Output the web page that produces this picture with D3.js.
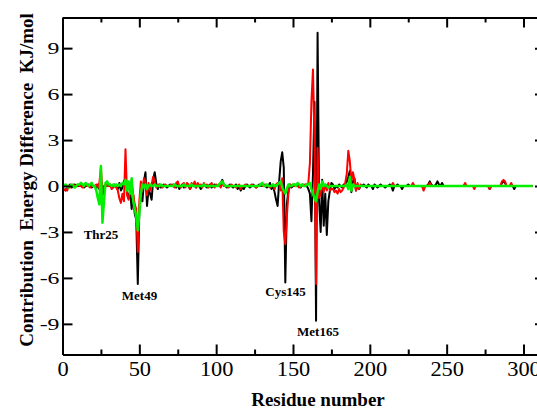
<!DOCTYPE html>
<html>
<head>
<meta charset="utf-8">
<script src="https://cdn.jsdelivr.net/npm/d3@7"></script>
<style>
  body { margin: 0; background: #fff; }
  svg { display: block; }
  text { font-family: "Liberation Serif", "Times New Roman", serif; fill: #000; }
</style>
</head>
<body>
<div id="main"></div>
<script>
// residue numbers (x) and per-residue energy differences (kJ/mol) for the three systems
var residues = d3.range(1, 307);

var blackVals = [
  -0.2,-0.3,-0.2,0,0.1,-0.1,0,0.1,0,0,
  0,0.1,0,-0.1,0,0,0.1,0,-0.1,0,
  0,-0.1,0.1,-0.2,0.3,-0.6,-0.2,0.1,0,0.1,
  0,-0.1,0,0.1,0,-0.2,0.2,-0.3,-0.1,0.3,
  0.5,-0.4,-0.8,-0.3,-1.5,-0.6,-1.8,-2.2,-6.4,-1.6,
  -0.5,-1.0,0.3,0.9,-1.3,-0.2,-0.5,-0.9,0.4,0.9,
  0.2,-0.2,0.1,-0.1,0,0.1,0,-0.1,0,0.1,
  0,0.1,0,-0.1,0.2,-0.2,0,0.1,-0.1,0,
  0.1,0,-0.2,0,0.1,0,-0.1,0.1,0,-0.2,
  0,0.1,0,-0.1,0,0.1,-0.1,0,0.1,0,
  0,0.1,0.2,0.4,0.1,0,-0.1,0,0.1,0,
  -0.1,0,0.1,-0.2,0,-0.3,-0.1,-0.2,0,0.1,
  0,-0.1,0,0.1,0,-0.1,0,0.1,0,0,
  0.1,0,-0.1,0,0.2,-0.2,0,-0.4,-0.9,-1.3,
  0.3,1.6,2.2,1.2,-6.3,-1.2,-0.3,0.1,-0.1,0,
  0.1,0,0.1,0,-0.1,0.1,0,0.1,0,-0.2,
  -0.5,-2.3,0.8,5.5,-8.8,10.0,-1.0,-3.0,0.4,-2.6,
  -0.5,-3.2,-1.0,-0.3,0.2,0.1,-0.2,0,-0.1,0.1,
  0,-0.1,0.1,0,0.3,0.6,1.0,-0.4,0.3,0.5,
  -0.3,0.1,-0.2,0,0,0.1,0,-0.1,0.1,0,
  0,-0.2,0.1,0,-0.1,0,0.1,0,0,-0.1,
  0,0,0.1,0,-0.3,0,0,0.1,0,0,
  -0.2,0,0,0,0.1,0,0,0.1,0,0,
  0,0,0,0,-0.2,0,0,0.1,0.3,0.1,
  0,0,0.1,0.3,0.1,0,0.2,0,0,0,
  0,0,0,0,0,0,0,0,0,0,
  0,0.1,0,0,0,0,0,0,0,0,
  0,0,0,0,0,0,0,-0.2,0,0,
  0,0,0,0,0,0.2,0.3,0.2,0,0,
  0,0,0,-0.2,0,0,0,0,0,0,
  0,0,0,0,0,0
];

var redVals = [
  -0.3,-0.2,-0.3,0,-0.1,0,0.1,0,0,0.1,
  0,0,-0.1,0,0.1,0,0,-0.1,0,0,
  0,0.1,-0.1,0.2,1.2,-0.4,0,0.1,0,0,
  0.1,-0.2,-0.1,0,-0.1,-0.3,-0.8,-1.1,-0.5,-1.0,
  2.4,-0.6,-0.9,-0.3,0.2,-0.5,-1.2,-1.5,-4.3,-1.0,
  0.3,-0.3,0.5,0.3,-0.6,0.2,-0.3,0.1,0.6,0.3,
  -0.1,0,0.1,0,-0.1,0,0.1,0,0,0,
  0.1,0,-0.1,0.2,0.3,0,-0.1,0.1,0.2,-0.1,
  0.2,0.1,-0.2,0.2,0,0.3,-0.1,0.2,0,0.1,
  -0.1,0.2,0,0.1,-0.1,0,0.2,0,-0.1,0.1,
  0,0.1,-0.1,0.2,0,0,0,-0.1,0,0.1,
  0,0,-0.1,0,0.1,-0.2,0,0,0.1,0,
  0,0,0.1,0,0,-0.1,0,0,0.1,0,
  0,0.1,0,0,-0.1,0,0.1,-0.2,0.1,0.2,
  0.2,-0.3,0.5,-3.0,-3.8,-2.0,-0.5,0.1,0,0.1,
  0,0.1,0,-0.1,0,0,0.1,0,0.1,0.2,
  1.5,5.5,7.6,3.0,-6.4,2.5,-0.8,-0.5,0.2,-0.4,
  0.1,-0.3,0.2,-0.3,-0.2,-0.2,-0.4,-0.3,-0.5,-0.2,
  -0.4,-0.3,-0.1,0.2,0.8,2.3,1.6,0.3,0.9,0.4,
  -0.3,0.2,-0.2,0.1,0,0,0,0,0,0,
  0,0,0,0,0,0,0,0,0,0,
  0,0,0,0,0.2,0,0,0,0,0,
  0,0,0,0,0,0,0,0.2,0,0,
  0,0,0,0,-0.3,0,0,0,0.2,0,
  0,0,0,0,0,0,0,0,0,0,
  0,0,0,0,0,0,0,0,0,0,
  0,0.2,0,0,0,0,0,-0.2,0,0,
  0,0,0,0,0,0,0,-0.2,0,0,
  0,0,0,0,0,0.3,0.4,0.3,0,0,
  0,0.2,0,0,0,0,0,0,0,0,
  0,0,0,0,0,0
];

var greenVals = [
  0,0.1,0,-0.1,0,0.1,0,-0.1,0,0.1,
  0.1,0.2,0.1,0,0.2,0.1,0,0.1,0.2,0,
  0,-0.3,-0.8,-1.2,1.3,-2.4,-1.0,0.2,0.3,0.1,
  0.1,0,0.1,0,0.1,0,0.1,0,0.2,0.1,
  0.4,-0.3,0.3,-0.5,0.5,-1.0,-1.5,-2.0,-2.9,-1.8,
  -0.5,0.1,-0.1,0.1,-0.2,0,0.1,0,0,0.1,
  0,0,0,0.1,0,0,0,0,0,0,
  0,0,0.1,0,0,0,0,0,0.1,0,
  0,0,0,0.1,0,0,0,0,0,0,
  0,0.1,0,0,0,0,0,0,0,0,
  0,0.1,0.2,0.3,0.1,0,0,0,0,0,
  0,0,0,0,0,0,0,0,0,0,
  0,0,0,0,0,0,0,0,0.1,0.2,
  0,0,0.1,0,0,0,0.1,0,0,0.1,
  0.2,0.3,-0.1,-0.3,-0.5,-0.2,0.1,0,0,0.1,
  0.1,0,0.2,0.1,0,0.1,0,0,0.1,0.1,
  0.2,-0.2,-0.5,-0.8,-1.0,-0.4,0.1,-0.2,0.3,0,
  0.1,0,-0.1,0,0,0,0,0,0,0,
  0,0,0,0,0.1,-0.2,0.6,-0.3,0.1,0,
  0,0,0,0,0,0,0,0,0,0,
  0,0,0,0,0,0,0,0,0,0,
  0,0,0,0,0,0,0,0,0,0,
  0,0,0,0,0,0,0,0,0,0,
  0,0,0,0,0,0,0,0,0,0,
  0,0,0,0,0,0,0,0,0,0,
  0,0,0,0,0,0,0,0,0,0,
  0,0,0,0,0,0,0,0,0,0,
  0,0,0,0,0,0,0,0,0,0,
  0,0,0,0,0,0,0,0,0,0,
  0,0,0,0,0,0,0,0,0,0,
  0,0,0,0,0,0
];

var xMajor = [0, 50, 100, 150, 200, 250, 300];
var xMinor = [25, 75, 125, 175, 225, 275];
var yMajor = [-9, -6, -3, 0, 3, 6, 9];

// residues picked out on the plot
var labelNames = ["Thr25", "Met49", "Cys145", "Met165"];

var width = 537, height = 408;
var pad = { left: 62.5, right: 545, top: 17.5, bottom: 354.5 };

var svg = d3.select("#main").append("svg")
    .attr("width", width)
    .attr("height", height);

svg.append("rect").attr("width", width).attr("height", height).attr("fill", "#fff");

var x = d3.scaleLinear().domain([0, 314]).range([pad.left, pad.right]);
var y = d3.scaleLinear().domain([-11, 11]).range([pad.bottom, pad.top]);

// lines: black under red under green
var series = [
    { vals: blackVals, color: "#000000", w: 2 },
    { vals: redVals, color: "#ff0000", w: 2 },
    { vals: greenVals, color: "#00f000", w: 2.5 }
];

var line = d3.line()
    .x(function (d) { return x(d[0]); })
    .y(function (d) { return y(d[1]); });

series.forEach(function (s) {
    var pts = residues.map(function (r, i) { return [r, s.vals[i]]; });
    svg.append("path")
        .datum(pts)
        .attr("fill", "none")
        .attr("stroke", s.color)
        .attr("stroke-width", s.w)
        .attr("stroke-linejoin", "round")
        .attr("d", line);
});

// axes, ticks pointing inward
function styleAxis(g) {
    g.select(".domain").attr("stroke", "#000").attr("stroke-width", 2);
    g.selectAll(".tick line").attr("stroke", "#000").attr("stroke-width", 2);
}

var xb = svg.append("g").attr("transform", "translate(0," + pad.bottom + ")")
    .call(d3.axisBottom(x).tickValues(xMajor).tickSize(-10).tickSizeOuter(0)
        .tickFormat(function (d) { return String(d); }));
styleAxis(xb);
// tick labels are a little wider than plain Times in the original
xb.selectAll(".tick text")
    .attr("font-size", 20).attr("font-family", "Liberation Serif").attr("fill", "#000")
    .attr("y", null).attr("dy", null)
    .attr("transform", "translate(0,21.5) scale(1.12,1)");

var xbm = svg.append("g").attr("transform", "translate(0," + pad.bottom + ")")
    .call(d3.axisBottom(x).tickValues(xMinor).tickSize(-5).tickSizeOuter(0).tickFormat(""));
styleAxis(xbm);

var xt = svg.append("g").attr("transform", "translate(0," + pad.top + ")")
    .call(d3.axisTop(x).tickValues(xMajor).tickSize(-10).tickSizeOuter(0).tickFormat(""));
styleAxis(xt);
var xtm = svg.append("g").attr("transform", "translate(0," + pad.top + ")")
    .call(d3.axisTop(x).tickValues(xMinor).tickSize(-5).tickSizeOuter(0).tickFormat(""));
styleAxis(xtm);

var yl = svg.append("g").attr("transform", "translate(" + pad.left + ",0)")
    .call(d3.axisLeft(y).tickValues(yMajor).tickSize(-10).tickSizeOuter(0)
        .tickFormat(function (d) { return String(d); }));
styleAxis(yl);
yl.selectAll(".tick text")
    .attr("font-size", 17).attr("font-family", "Liberation Serif").attr("fill", "#000")
    .attr("x", null).attr("dy", "0.34em")
    .attr("transform", "translate(-3,0) scale(1.4,1)");

var yr = svg.append("g").attr("transform", "translate(" + pad.right + ",0)")
    .call(d3.axisRight(y).tickValues(yMajor).tickSize(-10).tickSizeOuter(0).tickFormat(""));
styleAxis(yr);

// axis titles
svg.append("text")
    .attr("x", 318).attr("y", 406)
    .attr("text-anchor", "middle")
    .attr("font-size", 19).attr("font-weight", "bold")
    .text("Residue number");

svg.append("text")
    .attr("transform", "translate(33,180) rotate(-90)")
    .attr("text-anchor", "middle")
    .attr("font-size", 19).attr("font-weight", "bold")
    .style("white-space", "pre")
    .text("Contribution  Energy Difference  KJ/mol");

// residue annotations
var labelPos = [[101, 239], [139.5, 300], [285.5, 296], [318, 336]];
svg.selectAll(".res-label")
    .data(labelNames)
    .enter().append("text")
    .attr("class", "res-label")
    .attr("x", function (d, i) { return labelPos[i][0]; })
    .attr("y", function (d, i) { return labelPos[i][1]; })
    .attr("text-anchor", "middle")
    .attr("font-size", 13).attr("font-weight", "bold")
    .attr("fill", "#111")
    .text(function (d) { return d; });
</script>
</body>
</html>
